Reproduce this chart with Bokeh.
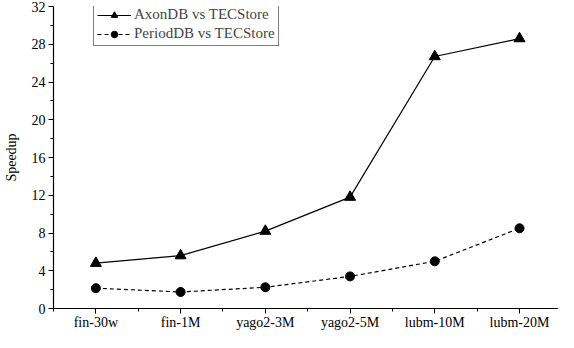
from bokeh.plotting import figure
from bokeh.models import FixedTicker, Legend, LegendItem, Range1d
from bokeh.embed import file_html
from bokeh.resources import INLINE

categories = ["fin-30w", "fin-1M", "yago2-3M", "yago2-5M", "lubm-10M", "lubm-20M"]
axon = [4.8, 5.6, 8.2, 11.8, 26.7, 28.6]
period = [2.15, 1.75, 2.25, 3.4, 5.0, 8.5]
y_ticks = [0, 4, 8, 12, 16, 20, 24, 28, 32]

xs = list(range(len(categories)))
FONT = "Liberation Serif"

p = figure(width=558, height=332, output_backend="svg", toolbar_location=None,
           x_range=Range1d(-0.5, 5.46), y_range=Range1d(0, 32),
           min_border_left=38, min_border_right=0, min_border_top=6, min_border_bottom=18)
p.grid.visible = False
p.outline_line_color = None

l1 = p.line(xs, axon, line_color="black", line_width=1.2)
s1 = p.scatter(xs, axon, marker="triangle", size=11, color="black")
l2 = p.line(xs, period, line_color="black", line_width=1.2, line_dash="4 3")
s2 = p.scatter(xs, period, marker="circle", size=9, color="black")

p.xaxis.ticker = FixedTicker(ticks=xs, minor_ticks=[i + 0.5 for i in range(-1, 6)])
p.xaxis.major_label_overrides = {i: c for i, c in enumerate(categories)}
p.yaxis.ticker = FixedTicker(ticks=y_ticks, minor_ticks=[t + 2 for t in y_ticks[:-1]])
p.yaxis.axis_label = "Speedup"

for ax in (p.xaxis[0], p.yaxis[0]):
    ax.axis_line_color = "black"
    ax.axis_line_width = 1.2
    ax.major_tick_in = 0
    ax.major_tick_out = 5
    ax.minor_tick_in = 0
    ax.minor_tick_out = 3
    ax.major_tick_line_color = "black"
    ax.minor_tick_line_color = "black"
    ax.major_label_text_font = FONT
    ax.major_label_text_font_size = "14px"
    ax.major_label_text_color = "black"
    ax.axis_label_text_font = FONT
    ax.axis_label_text_font_size = "14px"
    ax.axis_label_text_font_style = "normal"
    ax.axis_label_text_color = "black"
p.yaxis.axis_label_standoff = 10
p.xaxis.major_label_standoff = 1
p.yaxis.major_label_standoff = 3

legend = Legend(items=[
    LegendItem(label="AxonDB vs TECStore", renderers=[l1, s1]),
    LegendItem(label="PeriodDB vs TECStore", renderers=[l2, s2]),
], location=(40, 262))
legend.label_text_font = FONT
legend.label_text_font_size = "15px"
legend.label_height = 16
legend.glyph_height = 16
legend.glyph_width = 34
legend.spacing = 2
legend.padding = 3
legend.margin = 0
legend.label_standoff = 3
legend.border_line_color = "black"
legend.border_line_width = 1
legend.background_fill_alpha = 1
p.add_layout(legend, "center")

open("out.html", "w").write(file_html(p, INLINE))
